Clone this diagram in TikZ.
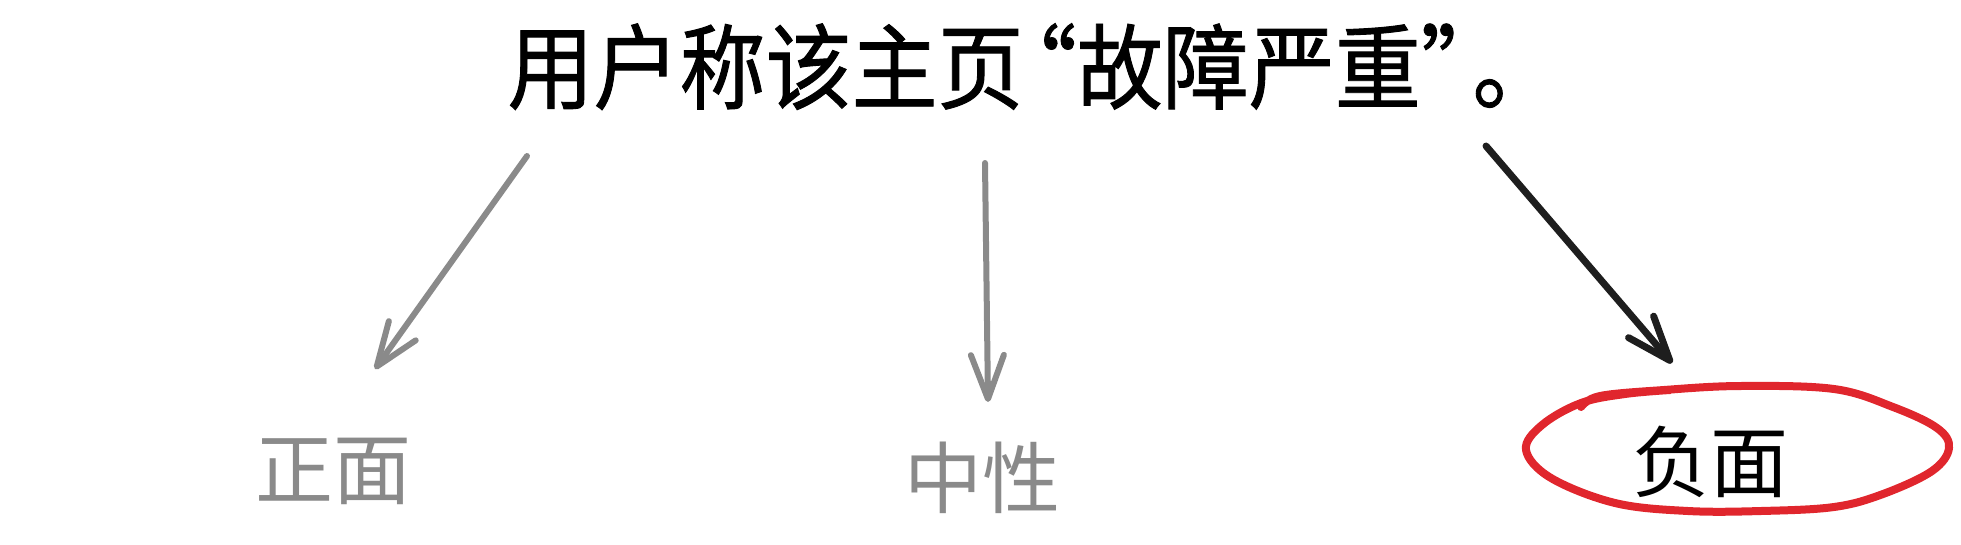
\documentclass[tikz,border=0pt]{standalone}
\usepackage{graphicx}
\usepackage{fontspec}
\newfontfamily\cjkfont{Noto Sans CJK SC}
\newfontfamily\cjkheavy[FakeBold=1]{Noto Sans CJK SC}
\usetikzlibrary{arrows.meta,positioning}
\definecolor{softgray}{HTML}{8A8A8A}
\definecolor{inkblack}{HTML}{1E1E1E}
\definecolor{markred}{HTML}{E0262D}
\newcommand{\narrowquote}[1]{\kern-0.38em“#1”\kern-0.4em}
\tikzset{
	claim/.style={font=\cjkheavy\fontsize{86}{90}\selectfont, inner sep=0pt, anchor=base},
	sentiment/.style={font=\cjkfont\fontsize{78}{82}\selectfont, inner sep=0pt, anchor=base},
	faded/.style={text=softgray},
	pointer/.style={line width=6pt, line cap=round, line join=round, -{Straight Barb[round, length=44pt, width=33pt]}},
	ring/.style={draw=markred, line width=8pt, line cap=round, line join=round}
}

\begin{document}
\begin{tikzpicture}[x=1pt, y=-1pt]
			\useasboundingbox (0,0) rectangle (1961,544);
			
			% Statement and the three sentiment classes are drawn.
			\node[claim] (statement) at (1033,102) {\scalebox{1}[1.08]{用户称该主页\narrowquote{故障严重}。}};
			\node[sentiment, faded] (positive) at (333,498) {正面};
			\node[sentiment, faded] (neutral) at (982,507) {中性};
			\node[sentiment] (negative) at (1710,491) {负面};
			
			\coordinate (positive-from) at (527,156);
			\coordinate (positive-to) at (375,369);
			\coordinate (neutral-from) at (985,163);
			\coordinate (neutral-to) at (988,402);
			\coordinate (negative-from) at (1486,146);
			\coordinate (negative-to) at (1672,363);
			
			\draw[pointer, softgray] (positive-from) -- (positive-to);
			\draw[pointer, softgray] (neutral-from) -- (neutral-to);
			\draw[pointer, inkblack, line width=7pt] (negative-from) -- (negative-to);
			
			% Hand drawn ring round the chosen class.
			\draw[ring] plot[smooth, tension=0.6] coordinates {
				(1581,407) (1600,396) (1664,390) (1740,386) (1834,389) (1893,407) (1937,428)
				(1949,448) (1932,471) (1883,494) (1834,507) (1761,511) (1688,511) (1615,503)
				(1551,478) (1526,450) (1542,425) (1581,403) (1625,394) (1670,390)};
			
\end{tikzpicture}
\end{document}
